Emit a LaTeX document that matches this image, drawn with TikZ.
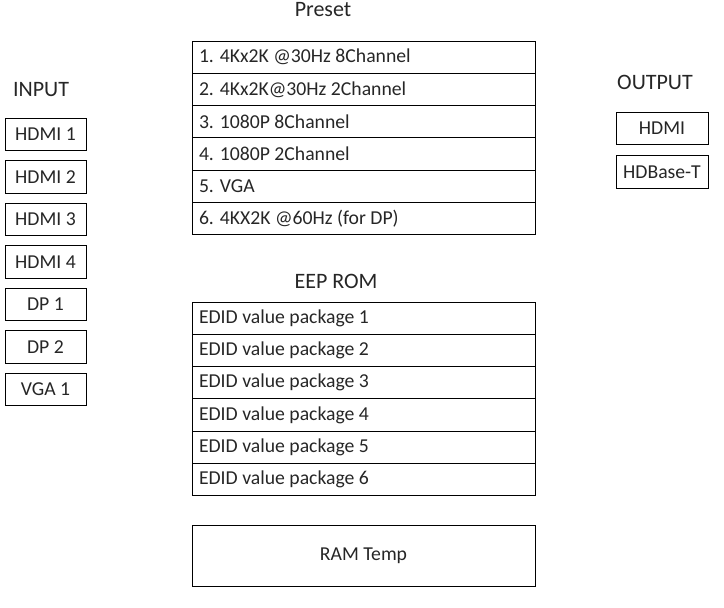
\documentclass[tikz,border=0pt]{standalone}
\usepackage{fontspec}
\setmainfont{Carlito}
\usepackage{tikz}
\usetikzlibrary{calc,positioning}
\def\tightspace{\spaceskip=0pt\relax\xspaceskip=0pt\relax}
\def\rowbox{\node[draw=black,line width=1pt,outer sep=0pt,minimum width=343pt,minimum height=32.3pt,text width=329pt,inner xsep=7pt,align=left,text=black!85,font=\fontsize{19.7}{22}\selectfont,execute at begin node=\tightspace]}
\def\portbox{\node[draw=black,line width=1pt,outer sep=0pt,inner sep=0pt,minimum height=32.5pt,text=black!85,font=\fontsize{19.7}{22}\selectfont]}
\def\headtext{\node[text=black!85,inner sep=0pt,font=\fontsize{22}{24}\selectfont]}

\begin{document}
\begin{tikzpicture}[x=1pt,y=-1pt]
\useasboundingbox (0,0) rectangle (724,608);

% Preset table
\headtext (preset) at (323,10) {Preset};
\rowbox (p1) at (363.5,57.2) {1. 4Kx2K @30Hz 8Channel};
\rowbox[below=0pt of p1] (p2) {2. 4Kx2K@30Hz 2Channel};
\rowbox[below=0pt of p2] (p3) {3. 1080P 8Channel};
\rowbox[below=0pt of p3] (p4) {4. 1080P 2Channel};
\rowbox[below=0pt of p4] (p5) {5. VGA};
\rowbox[below=0pt of p5] (p6) {6. 4KX2K @60Hz (for DP)};

% EEP ROM table
\headtext (eep) at (336,281) {EEP ROM};
\rowbox (e1) at (363.5,318.2) {EDID value package 1};
\rowbox[below=0pt of e1] (e2) {EDID value package 2};
\rowbox[below=0pt of e2] (e3) {EDID value package 3};
\rowbox[below=0pt of e3] (e4) {EDID value package 4};
\rowbox[below=0pt of e4] (e5) {EDID value package 5};
\rowbox[below=0pt of e5] (e6) {EDID value package 6};

\portbox[minimum width=343pt,minimum height=61pt] (ram) at (363.5,556) {RAM Temp};

% inputs
\headtext (input) at (41,90) {INPUT};
\portbox[minimum width=81pt] (hdmi1) at (45.5,134.5) {HDMI 1};
\portbox[minimum width=81pt,below=10pt of hdmi1] (hdmi2) {HDMI 2};
\portbox[minimum width=81pt,below=10pt of hdmi2] (hdmi3) {HDMI 3};
\portbox[minimum width=81pt,below=10pt of hdmi3] (hdmi4) {HDMI 4};
\portbox[minimum width=81pt,below=10pt of hdmi4] (dp1) {DP 1};
\portbox[minimum width=81pt,below=10pt of dp1] (dp2) {DP 2};
\portbox[minimum width=81pt,below=10pt of dp2] (vga1) {VGA 1};

% outputs
\headtext (output) at (655,82) {OUTPUT};
\portbox[minimum width=92pt] (hdmiout) at (662,128.5) {HDMI};
\portbox[minimum width=92pt,below=11pt of hdmiout] (hdbt) {HDBase-T};
\end{tikzpicture}
\end{document}
